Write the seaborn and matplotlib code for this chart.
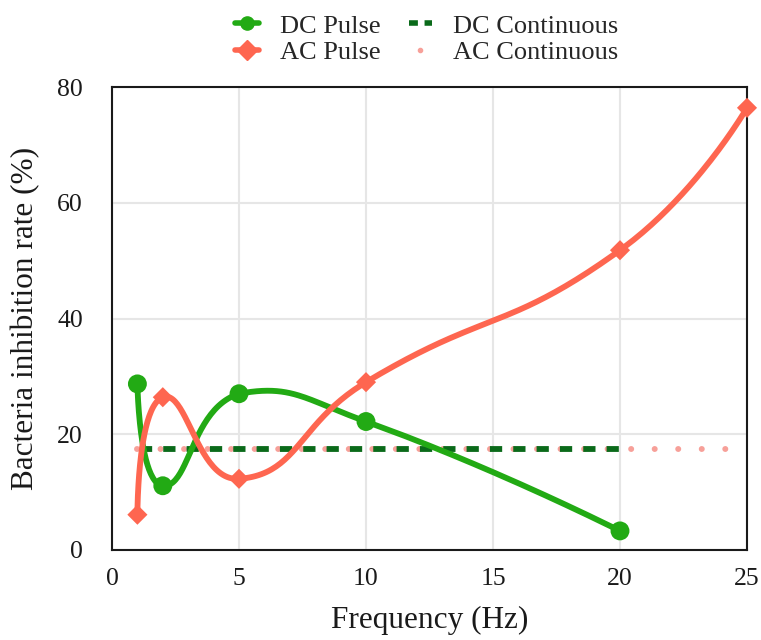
import matplotlib
matplotlib.use("Agg")
import matplotlib.pyplot as plt
from matplotlib.lines import Line2D
import numpy as np
import pandas as pd
import seaborn as sns

# values
dc_freq = [1, 2, 5, 10, 20]
dc_pulse = [28.7, 11.1, 27.0, 22.2, 3.3]
ac_freq = [1, 2, 5, 10, 20, 25]
ac_pulse = [6.1, 26.4, 12.3, 29.0, 51.8, 76.4]
dc_cont_x = [1, 20]
dc_cont = [17.5, 17.5]
ac_cont_x = [1, 25]
ac_cont = [17.5, 17.5]

GREEN = "#22aa14"
DARK_GREEN = "#0a6a1a"
RED = "#fe6650"
PINK = "#f7a099"

sns.set_style("white")
plt.rcParams["font.family"] = ["Liberation Serif", "DejaVu Serif"]


def smooth_path(xs, ys, sx, sy, smooth=0.5, n=50):
    # bezier smoothing, control points kept inside the points' bounding box (pixel units)
    p = np.column_stack([np.asarray(xs, float) * sx, np.asarray(ys, float) * sy])
    lo, hi = p.min(axis=0), p.max(axis=0)
    t = np.linspace(0, 1, n)[:, None]
    out = [p[:1]]
    cp0 = p[0].copy()
    for k in range(1, len(p)):
        prev, cur = p[k - 1], p[k]
        if k + 1 >= len(p):
            cp1 = cur.copy()
            v = np.zeros(2)
            r = 0.5
        else:
            nxt = p[k + 1]
            v = nxt - prev
            lp = np.hypot(*(cur - prev))
            ln = np.hypot(*(nxt - cur))
            r = ln / (ln + lp)
            cp1 = cur - v * smooth * (1 - r)
        cp0 = np.clip(cp0, lo, hi)
        cp1 = np.clip(cp1, lo, hi)
        seg = (1 - t) ** 3 * prev + 3 * (1 - t) ** 2 * t * cp0 + 3 * (1 - t) * t ** 2 * cp1 + t ** 3 * cur
        out.append(seg[1:])
        cp0 = cur + v * smooth * r
    out = np.vstack(out)
    return out[:, 0] / sx, out[:, 1] / sy


W, H = 761, 640
fig = plt.figure(figsize=(W / 100, H / 100), dpi=100)
left, right, top, bottom = 112, 747, 87, 550
ax = fig.add_axes([left / W, 1 - bottom / H, (right - left) / W, (bottom - top) / H])

xmax, ymax = 25, 80
sx = (right - left) / xmax
sy = (bottom - top) / ymax

dc = pd.DataFrame({"freq": dc_freq, "rate": dc_pulse})
ac = pd.DataFrame({"freq": ac_freq, "rate": ac_pulse})

ax.plot(ac_cont_x, ac_cont, color=PINK, lw=4.3, linestyle=(0, (0.01, 3.93)),
        dash_capstyle="round", zorder=2)
ax.plot(dc_cont_x, dc_cont, color=DARK_GREEN, lw=4.2, linestyle=(3.5, (2.1, 1.9)), zorder=2)

cx, cy = smooth_path(dc_freq, dc_pulse, sx, sy)
ax.plot(cx, cy, color=GREEN, lw=4.2, zorder=3, solid_capstyle="round")
cx, cy = smooth_path(ac_freq, ac_pulse, sx, sy)
ax.plot(cx, cy, color=RED, lw=4.2, zorder=3, solid_capstyle="round")

sns.scatterplot(data=dc, x="freq", y="rate", ax=ax, color=GREEN, marker="o", s=185,
                edgecolor="none", zorder=4, clip_on=False)
sns.scatterplot(data=ac, x="freq", y="rate", ax=ax, color=RED, marker="D", s=105,
                edgecolor="none", zorder=4, clip_on=False)

ax.set_xlim(0, xmax)
ax.set_ylim(0, ymax)
ax.set_xticks([0, 5, 10, 15, 20, 25])
ax.set_yticks([0, 20, 40, 60, 80])
ax.grid(True, color="#e6e6e6", lw=1.5)
ax.set_axisbelow(True)
for sp in ax.spines.values():
    sp.set_color("#1a1a1a")
    sp.set_linewidth(1.5)
ax.tick_params(axis="both", labelsize=18.5, length=0, colors="#1a1a1a")
ax.tick_params(axis="y", pad=21)
ax.tick_params(axis="x", pad=13)
ax.set_xlabel("Frequency (Hz)", fontsize=22.5, color="#1a1a1a")
ax.set_ylabel("Bacteria inhibition rate (%)", fontsize=22.5, color="#1a1a1a")
ax.xaxis.set_label_coords(0.5, (bottom - 620) / (bottom - top), transform=ax.transAxes)
ax.yaxis.set_label_coords((26 - left) / (right - left), 0.5, transform=ax.transAxes)
ax.xaxis.label.set_va("center")
ax.yaxis.label.set_va("center")

handles = [
    Line2D([], [], color=GREEN, lw=4, marker="o", markersize=9.5),
    Line2D([], [], color=RED, lw=4, marker="D", markersize=10.5),
    Line2D([], [], color=DARK_GREEN, lw=4, linestyle=(0, (1.6, 1.2))),
    Line2D([], [], color=PINK, lw=0, marker="o", markersize=3),
]
labels = ["DC Pulse", "AC Pulse", "DC Continuous", "AC Continuous"]
fig.legend(handles, labels, ncol=2, loc="center", bbox_to_anchor=(427 / W, 1 - 39 / H),
           frameon=False, fontsize=19, handlelength=0.9, columnspacing=1.05,
           labelspacing=0.1, handletextpad=0.8, borderpad=0.1)

fig.savefig("out.png", dpi=100)
